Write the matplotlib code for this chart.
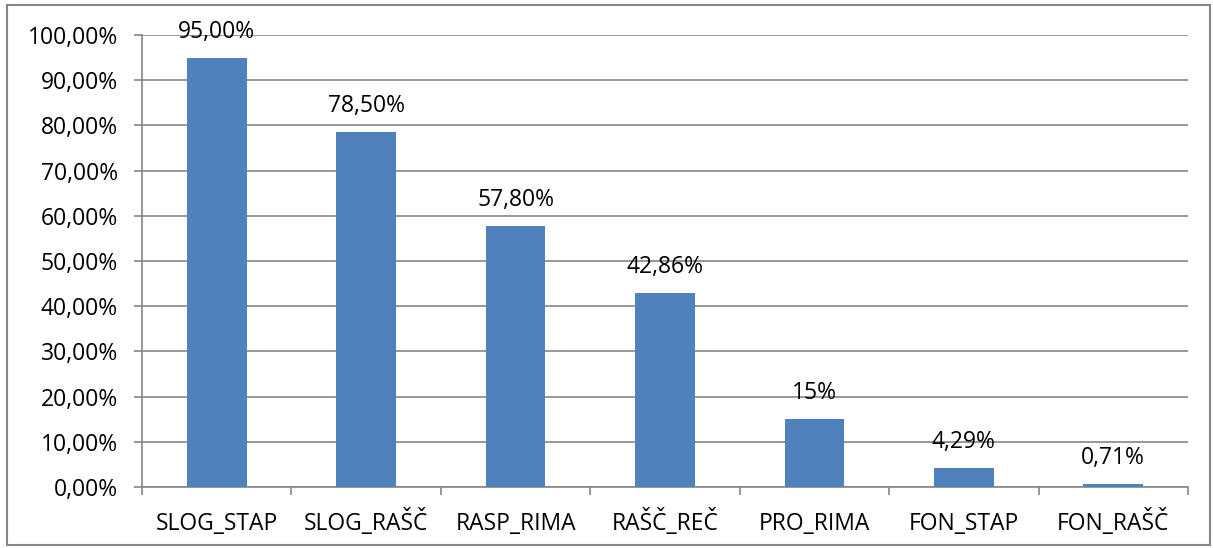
import matplotlib
matplotlib.use('Agg')
import matplotlib.pyplot as plt
from matplotlib.patches import Rectangle
from matplotlib.ticker import FixedLocator

# data
categories = ['SLOG_STAP', 'SLOG_RAŠČ', 'RASP_RIMA', 'RAŠČ_REČ', 'PRO_RIMA', 'FON_STAP', 'FON_RAŠČ']
values = [95.00, 78.50, 57.80, 42.86, 15.0, 4.29, 0.71]
value_labels = ['95,00%', '78,50%', '57,80%', '42,86%', '15%', '4,29%', '0,71%']
y_ticks = [0, 10, 20, 30, 40, 50, 60, 70, 80, 90, 100]
y_tick_labels = ['{:.2f}%'.format(t).replace('.', ',') for t in y_ticks]

plt.rcParams['font.family'] = ['Open Sans', 'DejaVu Sans']
plt.rcParams['font.size'] = 16.5

fig = plt.figure(figsize=(12.13, 5.48), dpi=100)
ax = fig.add_axes([142/1213, 1 - 487/548, (1188-142)/1213, (487-35)/548])

grey = '#868686'
x = list(range(len(categories)))
ax.bar(x, values, width=0.4, color='#4F81BD', zorder=3)

for xi, v, lab in zip(x, values, value_labels):
    ax.annotate(lab, (xi, v), xytext=(0, 10), textcoords='offset points',
                ha='center', va='bottom')

ax.set_xlim(-0.5, len(categories) - 0.5)
ax.set_ylim(0, 100)
ax.set_yticks(y_ticks)
ax.set_yticklabels(y_tick_labels)
ax.set_xticks(x)
ax.set_xticklabels(categories, va='baseline')
ax.tick_params(axis='x', length=0, pad=31)
ax.xaxis.set_minor_locator(FixedLocator([i - 0.5 for i in range(len(categories) + 1)]))
ax.tick_params(axis='x', which='minor', length=5.5, color=grey, width=1.2)
ax.tick_params(axis='y', length=5.5, color=grey, width=1.2, pad=12)
ax.yaxis.grid(True, color=grey, linewidth=1.2, zorder=0)
ax.set_axisbelow(True)

for s in ['top', 'right']:
    ax.spines[s].set_visible(False)
for s in ['left', 'bottom']:
    ax.spines[s].set_color(grey)
    ax.spines[s].set_linewidth(1.2)

# frame around the whole chart
fig.patches.append(Rectangle((7/1213, 3/548), 1203/1213, 540/548, transform=fig.transFigure,
                             fill=False, edgecolor=grey, linewidth=1.5))

fig.savefig('out.png', dpi=100)
